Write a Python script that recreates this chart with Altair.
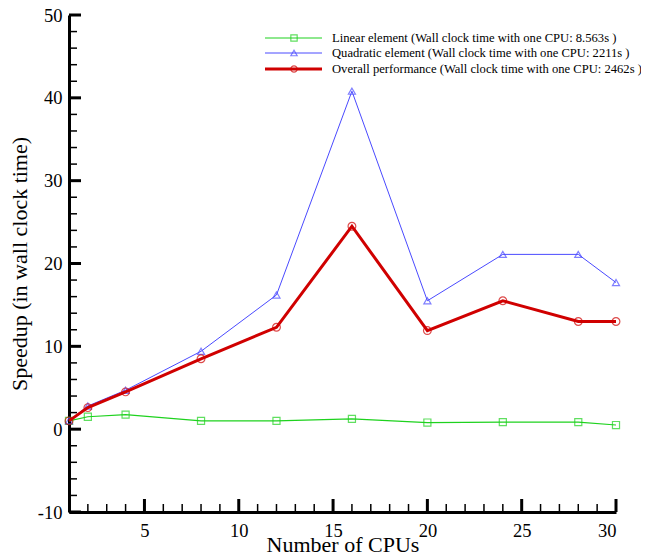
import altair as alt
import pandas as pd

cpus = [1, 2, 4, 8, 12, 16, 20, 24, 28, 30]
linear = [1.0, 1.5, 1.75, 1.0, 1.0, 1.25, 0.8, 0.85, 0.85, 0.5]
quadratic = [1.0, 2.8, 4.7, 9.4, 16.2, 40.8, 15.5, 21.1, 21.1, 17.7]
overall = [1.0, 2.6, 4.5, 8.5, 12.3, 24.5, 11.9, 15.5, 13.0, 13.0]

names = [
    "Linear element (Wall clock time with one CPU: 8.563s )",
    "Quadratic element (Wall clock time with one CPU: 2211s )",
    "Overall performance (Wall clock time with one CPU: 2462s )",
]
colors = ["#1ed21e", "#4a4aff", "#d00000"]
widths = [1.2, 1.0, 3.0]
shapes = ["square", "triangle-up", "circle"]

y_major = [-10, 0, 10, 20, 30, 40, 50]
y_minor = [-8, -6, -4, -2, 2, 4, 6, 8, 12, 14, 16, 18, 22, 24, 26, 28,
           32, 34, 36, 38, 42, 44, 46, 48]
x_major = [5, 10, 15, 20, 25, 30]
x_minor = [2, 3, 4, 6, 7, 8, 9, 11, 12, 13, 14, 16, 17, 18, 19,
           21, 22, 23, 24, 26, 27, 28, 29]

FONT = "Liberation Serif"
W, H = 547, 497

xs = alt.Scale(domain=[1, 30], nice=False, zero=False)
ys = alt.Scale(domain=[-10, 50], nice=False, zero=False)

layers = []

base_df = pd.DataFrame({"x": cpus, "y": linear})
axis_layer = alt.Chart(base_df).mark_point(opacity=0).encode(
    x=alt.X("x:Q", scale=xs, title="Number of CPUs",
            axis=alt.Axis(values=x_major, tickSize=0, domainWidth=3,
                          domainColor="black", labelFont=FONT, labelFontSize=18.5,
                          labelColor="black", labelPadding=9, grid=False,
                          labelExpr="'' + datum.value",
                          titleFont=FONT, titleFontSize=22, titleFontWeight="normal",
                          titleColor="black", titlePadding=-5)),
    y=alt.Y("y:Q", scale=ys, title="Speedup (in wall clock time)",
            axis=alt.Axis(values=y_major, tickSize=0, domainWidth=3,
                          domainColor="black", labelFont=FONT, labelFontSize=18.5,
                          labelColor="black", labelPadding=7, grid=False,
                          labelExpr="'' + datum.value",
                          titleFont=FONT, titleFontSize=22, titleFontWeight="normal",
                          titleColor="black", titlePadding=6)),
)
layers.append(axis_layer)

ym = pd.DataFrame({"v": y_major})
yn = pd.DataFrame({"v": y_minor})
xm = pd.DataFrame({"v": x_major})
xn = pd.DataFrame({"v": x_minor})
layers.append(alt.Chart(ym).mark_rule(color="black", strokeWidth=3).encode(
    y=alt.Y("v:Q", scale=ys), x=alt.value(0), x2=alt.value(12)))
layers.append(alt.Chart(yn).mark_rule(color="black", strokeWidth=1.5).encode(
    y=alt.Y("v:Q", scale=ys), x=alt.value(0), x2=alt.value(8)))
layers.append(alt.Chart(xm).mark_rule(color="black", strokeWidth=3).encode(
    x=alt.X("v:Q", scale=xs), y=alt.value(H), y2=alt.value(H - 13)))
layers.append(alt.Chart(xn).mark_rule(color="black", strokeWidth=1.5).encode(
    x=alt.X("v:Q", scale=xs), y=alt.value(H), y2=alt.value(H - 8)))

series = [linear, quadratic, overall]
for i in range(3):
    df = pd.DataFrame({"x": cpus, "y": series[i]})
    layers.append(alt.Chart(df).mark_line(color=colors[i], strokeWidth=widths[i]).encode(
        x=alt.X("x:Q", scale=xs), y=alt.Y("y:Q", scale=ys)))
    layers.append(alt.Chart(df).mark_point(shape=shapes[i], filled=False, color=colors[i],
                                           size=50 if i < 2 else 60, strokeWidth=1.2).encode(
        x=alt.X("x:Q", scale=xs), y=alt.Y("y:Q", scale=ys)))

leg_y = [23, 38, 54]
for i in range(3):
    ldf = pd.DataFrame({"name": [names[i]]})
    layers.append(alt.Chart(ldf).mark_rule(color=colors[i], strokeWidth=widths[i]).encode(
        x=alt.value(196), x2=alt.value(253), y=alt.value(leg_y[i])))
    layers.append(alt.Chart(ldf).mark_point(shape=shapes[i], filled=False, color=colors[i],
                                            size=40, strokeWidth=1.2).encode(
        x=alt.value(225), y=alt.value(leg_y[i])))
    layers.append(alt.Chart(ldf).mark_text(align="left", baseline="middle", font=FONT,
                                           fontSize=12.6, color="black").encode(
        x=alt.value(263), y=alt.value(leg_y[i]), text="name:N"))

chart = alt.layer(*layers).properties(
    width=W, height=H,
    autosize=alt.AutoSizeParams(type="none"),
    padding={"left": 61, "top": 7, "right": 25, "bottom": 46},
).configure_view(stroke=None)

chart.save("out.html", embed_options={"renderer": "svg", "actions": False})
